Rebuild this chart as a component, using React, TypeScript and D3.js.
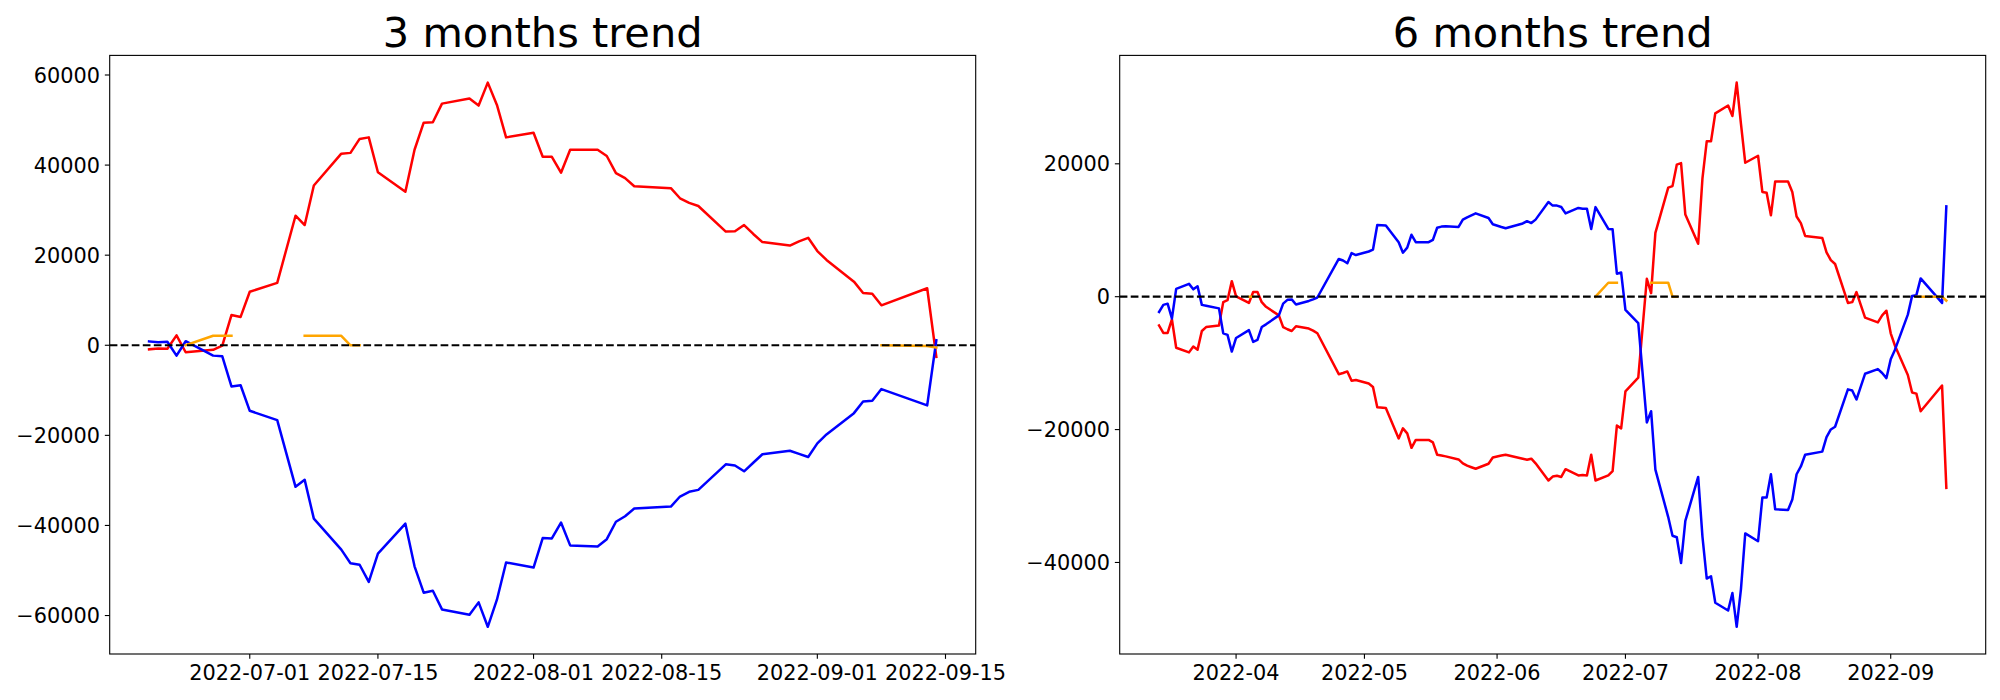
import React from "react";
import * as d3 from "d3";

// ---------------- 3 months trend ----------------
const dates3m = [
  "2022-06-20","2022-06-21","2022-06-22","2022-06-23","2022-06-24",
  "2022-06-27","2022-06-28","2022-06-29","2022-06-30","2022-07-01",
  "2022-07-04","2022-07-06","2022-07-07","2022-07-08",
  "2022-07-11","2022-07-12","2022-07-13","2022-07-14","2022-07-15",
  "2022-07-18","2022-07-19","2022-07-20","2022-07-21","2022-07-22",
  "2022-07-25","2022-07-26","2022-07-27","2022-07-28","2022-07-29",
  "2022-08-01","2022-08-02","2022-08-03","2022-08-04","2022-08-05",
  "2022-08-08","2022-08-09","2022-08-10","2022-08-11","2022-08-12",
  "2022-08-16","2022-08-17","2022-08-18","2022-08-19",
  "2022-08-22","2022-08-23","2022-08-24","2022-08-25","2022-08-26",
  "2022-08-29","2022-08-30","2022-08-31","2022-09-01","2022-09-02",
  "2022-09-05","2022-09-06","2022-09-07","2022-09-08",
  "2022-09-13","2022-09-14",
];
const red3m = [
  -900, -700, -780, 2200, -1550,
  -1000, -100, 6700, 6290, 11880,
  13860, 28760, 26690, 35470,
  42530, 42710, 45810, 46150, 38400,
  34100, 43400, 49420, 49510, 53640,
  54760, 53210, 58310, 53350, 46150,
  47180, 41840, 41840, 38310, 43390,
  43390, 42020, 38230, 37110, 35300,
  34870, 32630, 31600, 30910,
  25230, 25310, 26690, 24710, 22900,
  22130, 23070, 23850, 20920, 18940,
  14120, 11620, 11450, 8870,
  12660, -2580,
];
const blue3m = [
  860, 690, 780, -2300, 900,
  -2300, -2450, -9130, -8870, -14550,
  -16620, -31430, -29880, -38490,
  -45370, -48390, -48730, -52520, -46240,
  -39610, -49080, -54930, -54500, -58640,
  -59840, -57080, -62500, -56480, -48220,
  -49340, -42790, -42880, -39350, -44430,
  -44690, -43050, -39180, -37970, -36250,
  -35820, -33580, -32540, -32110,
  -26430, -26690, -27980, -26090, -24190,
  -23420, -24110, -24800, -21780, -19800,
  -15070, -12480, -12310, -9730,
  -13350, 1120,
];
// "" / null marks a gap in the orange series
const orangeDates3m = [
  "2022-06-24","2022-06-27","2022-06-28","2022-06-29","",
  "2022-07-07","2022-07-08","2022-07-11","2022-07-12","2022-07-13","",
  "2022-09-08","2022-09-13","2022-09-14",
];
const orange3m = [0, 2100, 2100, 2100, null, 2100, 2100, 2100, 0, 0, null, 0, -150, -500];
const xTicks3m = ["2022-07-01","2022-07-15","2022-08-01","2022-08-15","2022-09-01","2022-09-15"];
const yTicks3m = [-60000, -40000, -20000, 0, 20000, 40000, 60000];

// ---------------- 6 months trend ----------------
const dates6m = [
  "2022-03-14","2022-03-15","2022-03-16","2022-03-17","2022-03-18",
  "2022-03-21","2022-03-22","2022-03-23","2022-03-24","2022-03-25",
  "2022-03-28","2022-03-29","2022-03-30","2022-03-31","2022-04-01",
  "2022-04-04","2022-04-05","2022-04-06","2022-04-07","2022-04-08",
  "2022-04-11","2022-04-12","2022-04-13","2022-04-14","2022-04-15",
  "2022-04-18","2022-04-19","2022-04-20",
  "2022-04-25","2022-04-26","2022-04-27","2022-04-28","2022-04-29",
  "2022-05-02","2022-05-03","2022-05-04","2022-05-06",
  "2022-05-09","2022-05-10","2022-05-11","2022-05-12","2022-05-13",
  "2022-05-16","2022-05-17","2022-05-18","2022-05-19","2022-05-20",
  "2022-05-23","2022-05-24","2022-05-25","2022-05-26","2022-05-27",
  "2022-05-30","2022-05-31","2022-06-02","2022-06-03",
  "2022-06-07","2022-06-08","2022-06-09","2022-06-10",
  "2022-06-13","2022-06-14","2022-06-15","2022-06-16","2022-06-17",
  "2022-06-20","2022-06-21","2022-06-22","2022-06-23","2022-06-24",
  "2022-06-27","2022-06-28","2022-06-29","2022-06-30","2022-07-01",
  "2022-07-04","2022-07-06","2022-07-07","2022-07-08",
  "2022-07-11","2022-07-12","2022-07-13","2022-07-14","2022-07-15",
  "2022-07-18","2022-07-19","2022-07-20","2022-07-21","2022-07-22",
  "2022-07-25","2022-07-26","2022-07-27","2022-07-28","2022-07-29",
  "2022-08-01","2022-08-02","2022-08-03","2022-08-04","2022-08-05",
  "2022-08-08","2022-08-09","2022-08-10","2022-08-11","2022-08-12",
  "2022-08-16","2022-08-17","2022-08-18","2022-08-19",
  "2022-08-22","2022-08-23","2022-08-24","2022-08-25","2022-08-26",
  "2022-08-29","2022-08-30","2022-08-31","2022-09-01","2022-09-02",
  "2022-09-05","2022-09-06","2022-09-07","2022-09-08",
  "2022-09-13","2022-09-14",
];
const red6m = [
  -4340, -5450, -5450, -3400, -7680,
  -8380, -7500, -7970, -5160, -4570,
  -4340, -820, -530, 2340, 60,
  -940, 700, 700, -820, -1520,
  -2810, -4570, -4900, -5160, -4450,
  -4800, -5100, -5500,
  -11660, -11490, -11250, -12660, -12540,
  -13070, -13590, -16640, -16760,
  -21330, -19810, -20570, -22740, -21560,
  -21560, -21920, -23790, -23910, -24030,
  -24490, -25080, -25430, -25670, -25900,
  -25140, -24200, -23910, -23790,
  -24380, -24550, -24380, -25080,
  -27660, -27070, -26960, -27130, -25960,
  -26900, -26840, -26900, -23790, -27660,
  -26900, -26250, -19400, -19810, -14240,
  -12190, 2700, 530, 9610,
  16410, 16640, 19870, 20100, 12360,
  7970, 17810, 23380, 23380, 27600,
  28770, 27190, 32220, 26020, 20160,
  21210, 15760, 15650, 12250, 17350,
  17350, 15760, 12070, 11080, 9140,
  8850, 6680, 5510, 4920,
  -940, -820, 700, -1230, -3160,
  -3870, -2810, -2110, -5510, -7380,
  -11780, -14420, -14590, -17230,
  -13360, -28770,
];
const blue6m = [
  -2290, -1230, -1050, -3280, 1170,
  1930, 1110, 1580, -1230, -1350,
  -1760, -5510, -5740, -8260, -6210,
  -5040, -6800, -6500, -4570, -4160,
  -2810, -1050, -470, -410, -1170,
  -640, -400, -120,
  5680, 5450, 5040, 6560, 6270,
  6800, 7090, 10780, 10720,
  8200, 6620, 7380, 9320, 8200,
  8200, 8560, 10370, 10550, 10610,
  10490, 11600, 11950, 12250, 12540,
  11840, 10900, 10490, 10310,
  11020, 11370, 11080, 11600,
  14240, 13710, 13710, 13500, 12540,
  13360, 13240, 13240, 10200, 13480,
  10200, 10140, 3460, 3630, -1990,
  -3980, -18930, -17230, -26020,
  -33170, -35980, -36210, -40080, -33750,
  -27130, -36100, -42430, -42070, -46060,
  -47230, -44600, -49680, -44010, -35630,
  -36800, -30240, -30240, -26720, -31990,
  -32110, -30530, -26720, -25550, -23790,
  -23320, -21150, -19980, -19570,
  -13950, -14120, -15470, -13540, -11600,
  -10900, -11490, -12250, -9430, -7970,
  -2700, 120, 230, 2750,
  -940, 13600,
];
const orangeDates6m = [
  "2022-04-04","2022-04-05","",
  "2022-06-24","2022-06-27","2022-06-28","2022-06-29","",
  "2022-07-07","2022-07-08","2022-07-11","2022-07-12","2022-07-13","",
  "2022-09-07","2022-09-08","2022-09-13","2022-09-14",
];
const orange6m = [0, 0, null, 0, 2100, 2100, 2100, null, 2100, 2100, 2100, 0, 0, null, 0, 0, 0, -600];
const xTicks6m = ["2022-04-01","2022-05-01","2022-06-01","2022-07-01","2022-08-01","2022-09-01"];
const yTicks6m = [-40000, -20000, 0, 20000];

const parse = d3.utcParse("%Y-%m-%d");
const FONT = "'DejaVu Sans', sans-serif";
const TICK_FS = 20.83;
const TICK_LEN = 4.86;
const TICK_PAD = 4.86;
const LW = 2.5;

type Pt = [Date | null, number | null];

function Chart(props: {
  left: number;
  width: number;
  title: string;
  dates: string[];
  red: number[];
  blue: number[];
  oDates: string[];
  oVals: (number | null)[];
  xTicks: string[];
  xFmt: string;
  yTicks: number[];
}) {
  const { left, width, title, dates, red, blue, oDates, oVals, xTicks, xFmt, yTicks } = props;
  const right = left + width;
  const top = 55.4;
  const bottom = 654;

  const ds = dates.map((s) => parse(s) as Date);
  const t0 = +(d3.min(ds) as Date);
  const t1 = +(d3.max(ds) as Date);
  const tp = (t1 - t0) * 0.05;
  const x = d3.scaleUtc().domain([new Date(t0 - tp), new Date(t1 + tp)]).range([left, right]);

  const all = [...red, ...blue, ...(oVals.filter((v) => v != null) as number[])];
  const lo = d3.min(all) as number;
  const hi = d3.max(all) as number;
  const yp = (hi - lo) * 0.05;
  const y = d3.scaleLinear().domain([lo - yp, hi + yp]).range([bottom, top]);

  const line = d3
    .line<Pt>()
    .defined((d) => d[0] != null && d[1] != null)
    .x((d) => x(d[0] as Date))
    .y((d) => y(d[1] as number));

  const redPts: Pt[] = ds.map((d, i) => [d, red[i]]);
  const bluePts: Pt[] = ds.map((d, i) => [d, blue[i]]);
  const orPts: Pt[] = oDates.map((s, i) => [s ? (parse(s) as Date) : null, oVals[i]]);

  const fmtX = d3.utcFormat(xFmt);
  const fmtY = (v: number) => String(v).replace("-", "\u2212");

  return (
    <g>
      <path d={line(redPts) || ""} fill="none" stroke="#ff0000" strokeWidth={LW} strokeLinejoin="round" strokeLinecap="square" />
      <path d={line(bluePts) || ""} fill="none" stroke="#0000ff" strokeWidth={LW} strokeLinejoin="round" strokeLinecap="square" />
      <path d={line(orPts) || ""} fill="none" stroke="#ffa500" strokeWidth={LW} strokeLinejoin="round" strokeLinecap="square" />
      <line x1={left} x2={right} y1={y(0)} y2={y(0)} stroke="#000" strokeWidth={2.2} strokeDasharray="7.7 3.33" />
      <rect x={left} y={top} width={width} height={bottom - top} fill="none" stroke="#000" strokeWidth={1.11} />
      {yTicks.map((v) => (
        <g key={"y" + v}>
          <line x1={left - TICK_LEN} x2={left} y1={y(v)} y2={y(v)} stroke="#000" strokeWidth={1.11} />
          <text
            x={left - TICK_LEN - TICK_PAD}
            y={y(v) + TICK_FS * 0.364}
            textAnchor="end"
            fontFamily={FONT}
            fontSize={TICK_FS}
            fill="#000"
          >
            {fmtY(v)}
          </text>
        </g>
      ))}
      {xTicks.map((s) => {
        const xv = x(parse(s) as Date);
        return (
          <g key={"x" + s}>
            <line x1={xv} x2={xv} y1={bottom} y2={bottom + TICK_LEN} stroke="#000" strokeWidth={1.11} />
            <text x={xv} y={680} textAnchor="middle" fontFamily={FONT} fontSize={TICK_FS} fill="#000">
              {fmtX(parse(s) as Date)}
            </text>
          </g>
        );
      })}
      <text x={(left + right) / 2} y={47} textAnchor="middle" fontFamily={FONT} fontSize={41.5} fill="#000">
        {title}
      </text>
    </g>
  );
}

export default function App() {
  return (
    <div style={{ position: "absolute", left: 0, top: 0, width: 2000, height: 700 }}>
      <svg width={2000} height={700} style={{ display: "block", background: "#fff" }}>
        <Chart
          left={109.7}
          width={866}
          title="3 months trend"
          dates={dates3m}
          red={red3m}
          blue={blue3m}
          oDates={orangeDates3m}
          oVals={orange3m}
          xTicks={xTicks3m}
          xFmt="%Y-%m-%d"
          yTicks={yTicks3m}
        />
        <Chart
          left={1119.7}
          width={866}
          title="6 months trend"
          dates={dates6m}
          red={red6m}
          blue={blue6m}
          oDates={orangeDates6m}
          oVals={orange6m}
          xTicks={xTicks6m}
          xFmt="%Y-%m"
          yTicks={yTicks6m}
        />
      </svg>
    </div>
  );
}
